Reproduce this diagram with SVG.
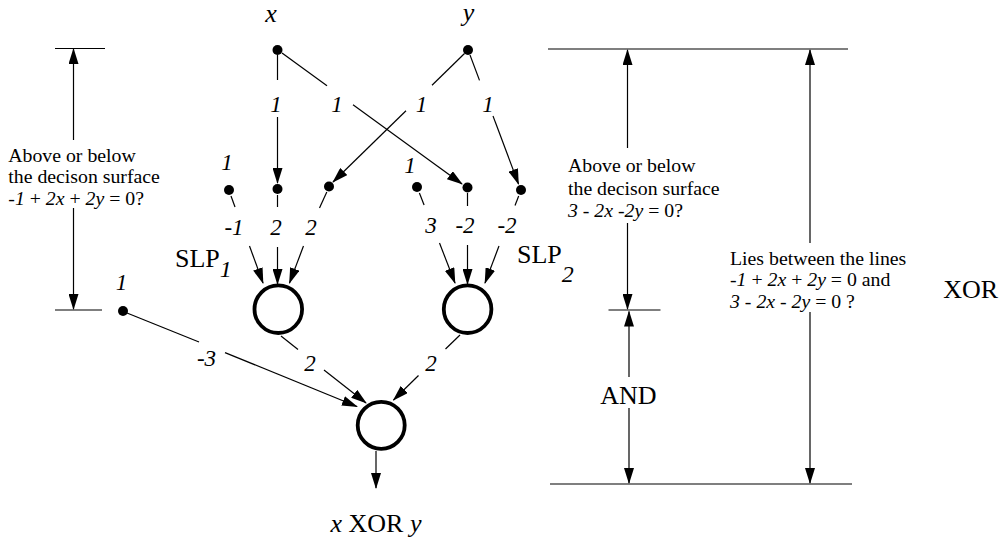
<svg xmlns="http://www.w3.org/2000/svg" width="1003" height="542" viewBox="0 0 1003 542">
<style>
text{font-family:"Liberation Serif","Times New Roman",serif;fill:#000}
.w{font-size:23px;font-style:italic;text-anchor:middle}
.n{font-size:19.8px}
.i{font-style:italic}
.big{font-size:26px}
.ln{stroke:#000;stroke-width:1.2;fill:none}
.arr{stroke:#000;stroke-width:1.2;fill:none;marker-end:url(#ah)}
.dim{stroke:#000;stroke-width:1.2;fill:none}
.dot{fill:#000}
.neuron{fill:#fff;stroke:#000;stroke-width:3.8}
</style>
<defs>
<marker id="ah" markerUnits="userSpaceOnUse" markerWidth="16" markerHeight="10" refX="15" refY="5" orient="auto">
<path d="M0,0 L16,5 L0,10 z" fill="#000"/>
</marker>
</defs>
<rect width="1003" height="542" fill="#fff"/>

<g id="connectors">
<path class="ln" d="M277.5,55 L277.5,80"/>
<path class="arr" d="M277.5,117 L277.5,183"/>
<path class="ln" d="M282,53 L327,85.7"/>
<path class="arr" d="M353,104.7 L462,184"/>
<path class="ln" d="M464.5,53.5 L432,85.2"/>
<path class="arr" d="M406,110.7 L333,182"/>
<path class="ln" d="M470,55 L479.5,80.4"/>
<path class="arr" d="M493,116 L518.5,184"/>
<path class="ln" d="M231,196 L235,207"/>
<path class="arr" d="M249.5,246 L263,283"/>
<path class="ln" d="M277.5,195 L277.5,207"/>
<path class="arr" d="M277.5,247 L277.5,284"/>
<path class="ln" d="M326.8,192 L319.5,208"/>
<path class="arr" d="M303.5,246 L289.5,283"/>
<path class="ln" d="M419.4,193 L424.1,205"/>
<path class="arr" d="M439.5,243 L455,283"/>
<path class="ln" d="M467.5,193 L467.5,206"/>
<path class="arr" d="M467.5,245 L467.5,284"/>
<path class="ln" d="M518.7,196 L515,205.5"/>
<path class="arr" d="M499,246 L485,283"/>
<path class="ln" d="M281,336 L298,349.5"/>
<path class="arr" d="M324,370 L366,403"/>
<path class="ln" d="M460,335 L445.5,349"/>
<path class="arr" d="M418.5,375.5 L393.5,400"/>
<path class="ln" d="M127,313 L199,342"/>
<path class="arr" d="M225,352.6 L357,406.5"/>
<path class="arr" d="M376,451 L376,488"/>
</g>

<g id="weights">
<text class="w" x="276" y="111.5">1</text>
<text class="w" x="337" y="111.5">1</text>
<text class="w" x="421.5" y="111.5">1</text>
<text class="w" x="488" y="111.5">1</text>
<text class="w" x="234" y="235">-1</text>
<text class="w" x="276" y="235">2</text>
<text class="w" x="311" y="235">2</text>
<text class="w" x="431" y="233">3</text>
<text class="w" x="465" y="233">-2</text>
<text class="w" x="507" y="233">-2</text>
<text class="w" x="310" y="371">2</text>
<text class="w" x="431" y="371">2</text>
<text class="w" x="206.5" y="366">-3</text>
</g>

<g id="input-x">
<circle class="dot" cx="277.5" cy="50" r="5"/>
<text class="big i" x="271" y="21.5" text-anchor="middle">x</text>
</g>
<g id="input-y">
<circle class="dot" cx="468" cy="50" r="5"/>
<text class="big i" x="468.5" y="21" text-anchor="middle">y</text>
</g>

<g id="slp1-bias">
<circle class="dot" cx="229" cy="190" r="5"/>
<text class="w" x="227" y="170">1</text>
</g>
<g id="slp1-x"><circle class="dot" cx="277.5" cy="189" r="5"/></g>
<g id="slp1-y"><circle class="dot" cx="329" cy="186.5" r="5"/></g>
<g id="slp2-bias">
<circle class="dot" cx="417" cy="187" r="5"/>
<text class="w" x="410" y="173">1</text>
</g>
<g id="slp2-x"><circle class="dot" cx="467.5" cy="187.5" r="5"/></g>
<g id="slp2-y"><circle class="dot" cx="521" cy="190" r="5"/></g>
<g id="out-bias">
<circle class="dot" cx="123" cy="311" r="5"/>
<text class="w" x="121.5" y="290">1</text>
</g>

<g id="slp1">
<circle class="neuron" cx="278.3" cy="309.2" r="23.8"/>
<text class="big" x="175" y="267">SLP<tspan class="i" font-size="24" dy="10">1</tspan></text>
</g>
<g id="slp2">
<circle class="neuron" cx="467.6" cy="309.2" r="23.8"/>
<text class="big" x="517" y="263">SLP<tspan class="i" font-size="24" dy="19">2</tspan></text>
</g>
<g id="output">
<circle class="neuron" cx="381.2" cy="425.3" r="23.5"/>
<text class="big" x="376" y="532" text-anchor="middle" font-size="27.5"><tspan class="i">x</tspan> XOR <tspan class="i">y</tspan></text>
</g>

<g id="dim-left">
<path class="dim" d="M55,48.5 L105,48.5 M55,310 L102,310"/>
<path class="arr" d="M73.5,140 L73.5,49"/>
<path class="arr" d="M73.5,208 L73.5,309"/>
<text class="n" x="8.3" y="161.7">Above or below</text>
<text class="n" x="8.3" y="183.3">the decison surface</text>
<text class="n" x="8.3" y="205"><tspan class="i">-1</tspan> + <tspan class="i">2x</tspan> + <tspan class="i">2y</tspan> = 0?</text>
</g>

<g id="dim-and">
<path class="dim" d="M548,49 L848,49 M608.5,310 L660.5,310 M550,484 L852,484"/>
<path class="arr" d="M627.5,148 L627.5,50"/>
<path class="arr" d="M627.5,223 L627.5,309"/>
<path class="arr" d="M629,377 L629,311.5"/>
<path class="arr" d="M629,408 L629,483"/>
<text class="n" x="568" y="171.7">Above or below</text>
<text class="n" x="568" y="194.5">the decison surface</text>
<text class="n" x="568" y="216.7"><tspan class="i">3 - 2x -2y</tspan> = 0?</text>
<text class="big" x="628.3" y="404" text-anchor="middle" font-size="27.5">AND</text>
</g>

<g id="dim-xor">
<path class="arr" d="M810,243 L810,50"/>
<path class="arr" d="M810,312 L810,483"/>
<text class="n" x="730" y="264.5">Lies between the lines</text>
<text class="n" x="730" y="286"><tspan class="i">-1</tspan> + <tspan class="i">2x</tspan> + <tspan class="i">2y</tspan> = 0 and</text>
<text class="n" x="730" y="307.5"><tspan class="i">3</tspan> - <tspan class="i">2x</tspan> - <tspan class="i">2y</tspan> = 0 ?</text>
<text class="big" x="943.3" y="298" font-size="27">XOR</text>
</g>
</svg>
